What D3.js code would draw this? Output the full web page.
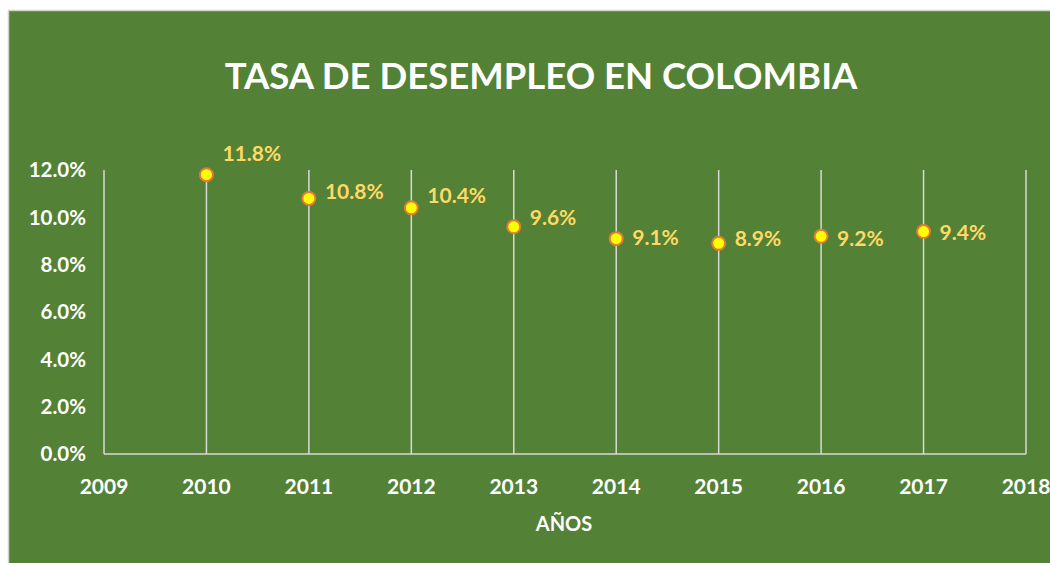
<!DOCTYPE html>
<html>
<head>
<meta charset="utf-8">
<script src="https://cdn.jsdelivr.net/npm/d3@7"></script>
<style>
  body { margin: 0; background: #fff; }
  svg { display: block; }
</style>
</head>
<body>
<svg id="chart"></svg>
<script>
// data
const years = [2010, 2011, 2012, 2013, 2014, 2015, 2016, 2017];
const rates = [11.8, 10.8, 10.4, 9.6, 9.1, 8.9, 9.2, 9.4];
const xTicks = [2009, 2010, 2011, 2012, 2013, 2014, 2015, 2016, 2017, 2018];
const yTicks = [0, 2, 4, 6, 8, 10, 12];

// little vertical nudges of the data labels (as placed in the original)
const labelDy = [-21, -7, -12, -9, -1, -5, 2, 1];

const width = 1050, height = 563;
const font = "Lato, 'Open Sans', sans-serif";

const svg = d3.select("#chart")
    .attr("width", width)
    .attr("height", height);

// green panel
svg.append("rect")
    .attr("x", 8.5).attr("y", 10.5)
    .attr("width", width).attr("height", height)
    .attr("fill", "#538135")
    .attr("stroke", "#d0d6cc")
    .attr("stroke-width", 1.5);

const x = d3.scaleLinear().domain([2009, 2018]).range([104, 1026]);
const y = d3.scaleLinear().domain([0, 12]).range([454, 170]);

// vertical grid lines
svg.append("g")
    .selectAll("line")
    .data(xTicks)
    .join("line")
    .attr("x1", d => x(d)).attr("x2", d => x(d))
    .attr("y1", y(12)).attr("y2", y(0))
    .attr("stroke", "#d9d9d9")
    .attr("stroke-width", 1.5);

// bottom axis line
svg.append("line")
    .attr("x1", x(2009)).attr("x2", x(2018))
    .attr("y1", y(0)).attr("y2", y(0))
    .attr("stroke", "#d9d9d9")
    .attr("stroke-width", 1.5);

// y tick labels
svg.append("g")
    .selectAll("text")
    .data(yTicks)
    .join("text")
    .attr("x", 86)
    .attr("y", d => y(d))
    .attr("dy", "0.35em")
    .attr("text-anchor", "end")
    .style("font-family", font)
    .style("font-weight", "bold")
    .style("font-size", "20.5px")
    .attr("fill", "#fff")
    .text(d => d.toFixed(1) + "%");

// x tick labels
svg.append("g")
    .selectAll("text")
    .data(xTicks)
    .join("text")
    .attr("x", d => x(d))
    .attr("y", 487)
    .attr("dy", "0.35em")
    .attr("text-anchor", "middle")
    .style("font-family", font)
    .style("font-weight", "bold")
    .style("font-size", "21px")
    .attr("fill", "#fff")
    .text(d => d);

// axis title
svg.append("text")
    .attr("x", 564).attr("y", 524)
    .attr("dy", "0.35em")
    .attr("text-anchor", "middle")
    .style("font-family", font)
    .style("font-weight", "bold")
    .style("font-size", "20px")
    .attr("fill", "#fff")
    .text("AÑOS");

// chart title
svg.append("text")
    .attr("x", 541).attr("y", 76)
    .attr("dy", "0.35em")
    .attr("text-anchor", "middle")
    .style("font-family", font)
    .style("font-weight", "bold")
    .style("font-size", "36.5px")
    .attr("fill", "#fff")
    .text("TASA DE DESEMPLEO EN COLOMBIA");

const points = years.map((yr, i) => ({ year: yr, rate: rates[i], dy: labelDy[i] }));

// markers
svg.append("g")
    .selectAll("circle")
    .data(points)
    .join("circle")
    .attr("cx", d => x(d.year))
    .attr("cy", d => y(d.rate))
    .attr("r", 6.5)
    .attr("fill", "#ffff00")
    .attr("stroke", "#e07b39")
    .attr("stroke-width", 2);

// data labels
svg.append("g")
    .selectAll("text")
    .data(points)
    .join("text")
    .attr("x", d => x(d.year) + 16)
    .attr("y", d => y(d.rate) + d.dy)
    .attr("dy", "0.35em")
    .style("font-family", font)
    .style("font-weight", "bold")
    .style("font-size", "21px")
    .attr("fill", "#ffd966")
    .text(d => d.rate.toFixed(1) + "%");
</script>
</body>
</html>
